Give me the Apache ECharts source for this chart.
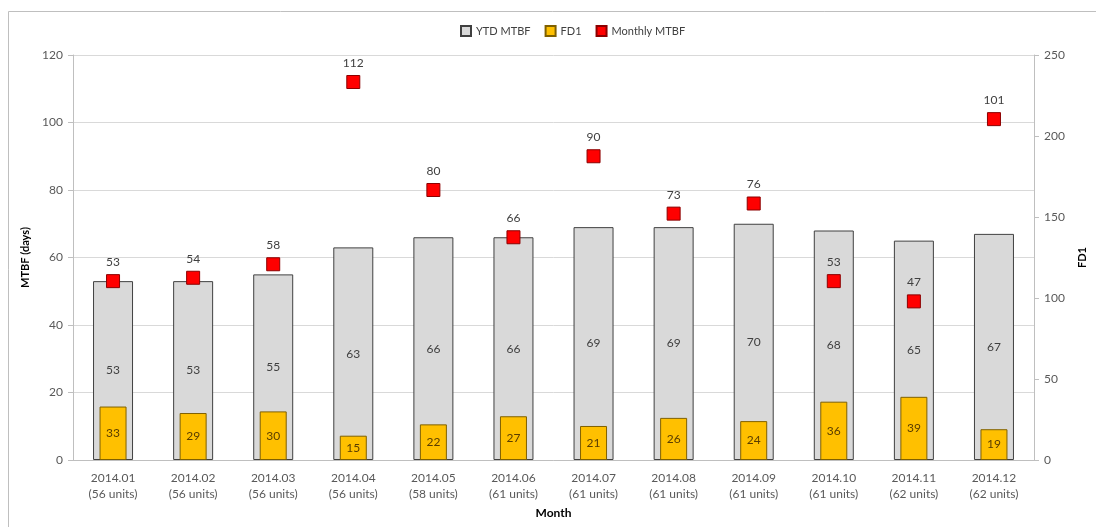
<!DOCTYPE html>
<html>
<head>
<meta charset="utf-8">
<script src="https://cdn.jsdelivr.net/npm/echarts@6/dist/echarts.min.js"></script>
<style>
  html, body { margin: 0; padding: 0; background: #fff; }
  #chart { width: 1096px; height: 527px; }
</style>
</head>
<body>
<div id="chart"></div>
<script>
var months = ['2014.01', '2014.02', '2014.03', '2014.04', '2014.05', '2014.06',
  '2014.07', '2014.08', '2014.09', '2014.10', '2014.11', '2014.12'];
var units = [56, 56, 56, 56, 58, 61, 61, 61, 61, 61, 62, 62];
var ytdMtbf = [53, 53, 55, 63, 66, 66, 69, 69, 70, 68, 65, 67];
var fd1 = [33, 29, 30, 15, 22, 27, 21, 26, 24, 36, 39, 19];
var monthlyMtbf = [53, 54, 58, 112, 80, 66, 90, 73, 76, 53, 47, 101];
var leftTicks = { min: 0, max: 120, interval: 20 };
var rightTicks = { min: 0, max: 250, interval: 50 };

var categories = months.map(function (m, i) {
  return m + '\n(' + units[i] + ' units)';
});

var font = 'Lato, "Open Sans", sans-serif';
var chart = echarts.init(document.getElementById('chart'), null, { renderer: 'canvas' });

chart.setOption({
  backgroundColor: '#fff',
  textStyle: { fontFamily: font },
  // chart frame: only left and top edges are visible in the picture
  graphic: [{
    type: 'polyline',
    shape: { points: [[8.5, 527], [8.5, 11.5], [1096, 11.5]] },
    style: { fill: null, stroke: '#bfbfbf', lineWidth: 1 },
    silent: true
  }],
  legend: {
    top: 20,
    left: 455,
    itemWidth: 10,
    itemHeight: 10,
    itemGap: 14,
    textStyle: { fontSize: 11, color: '#404040', fontFamily: font },
    data: [
      { name: 'YTD MTBF', icon: 'rect' },
      { name: 'FD1', icon: 'rect' },
      { name: 'Monthly MTBF', icon: 'rect' }
    ]
  },
  grid: { left: 73, right: 59, top: 55, bottom: 67 },
  xAxis: [{
    type: 'category',
    data: categories,
    name: 'Month',
    nameLocation: 'middle',
    nameGap: 44,
    nameTextStyle: { fontWeight: 'bold', fontSize: 12, color: '#000' },
    axisLine: { lineStyle: { color: '#bfbfbf' } },
    axisTick: { show: false },
    axisLabel: { color: '#595959', fontSize: 12, lineHeight: 16, margin: 10, interval: 0 }
  }, {
    type: 'category',
    data: categories,
    show: false
  }],
  yAxis: [{
    type: 'value',
    min: leftTicks.min,
    max: leftTicks.max,
    interval: leftTicks.interval,
    name: 'MTBF (days)',
    nameLocation: 'middle',
    nameGap: 38,
    nameTextStyle: { fontWeight: 'bold', fontSize: 11, color: '#000' },
    axisLine: { show: true, lineStyle: { color: '#bfbfbf' } },
    axisTick: { show: true, length: 5, lineStyle: { color: '#bfbfbf' } },
    axisLabel: { color: '#595959', fontSize: 12, margin: 10 },
    splitLine: { lineStyle: { color: '#d9d9d9' } }
  }, {
    type: 'value',
    min: rightTicks.min,
    max: rightTicks.max,
    interval: rightTicks.interval,
    name: 'FD1',
    nameLocation: 'middle',
    nameGap: 43,
    nameTextStyle: { fontWeight: 'bold', fontSize: 11, color: '#000' },
    axisLine: { show: true, lineStyle: { color: '#bfbfbf' } },
    axisTick: { show: true, length: 5, lineStyle: { color: '#bfbfbf' } },
    axisLabel: { color: '#595959', fontSize: 12, margin: 10 },
    splitLine: { show: false }
  }],
  series: [{
    name: 'YTD MTBF',
    type: 'bar',
    xAxisIndex: 0,
    yAxisIndex: 0,
    barWidth: 40,
    data: ytdMtbf,
    itemStyle: { color: '#d9d9d9', borderColor: '#404040', borderWidth: 1 },
    label: { show: true, position: 'inside', color: '#404040', fontSize: 12 }
  }, {
    name: 'FD1',
    type: 'bar',
    xAxisIndex: 1,
    yAxisIndex: 1,
    barWidth: 27,
    data: fd1,
    itemStyle: { color: '#ffc000', borderColor: '#7f6000', borderWidth: 1 },
    label: { show: true, position: 'inside', color: '#5a3d00', fontSize: 12 }
  }, {
    name: 'Monthly MTBF',
    type: 'scatter',
    xAxisIndex: 0,
    yAxisIndex: 0,
    symbol: 'rect',
    symbolSize: 13,
    data: monthlyMtbf,
    itemStyle: { color: '#ff0000', borderColor: '#8b0000', borderWidth: 1, opacity: 1 },
    label: { show: true, position: 'top', distance: 6, color: '#404040', fontSize: 12 },
    z: 5
  }]
});
</script>
</body>
</html>
